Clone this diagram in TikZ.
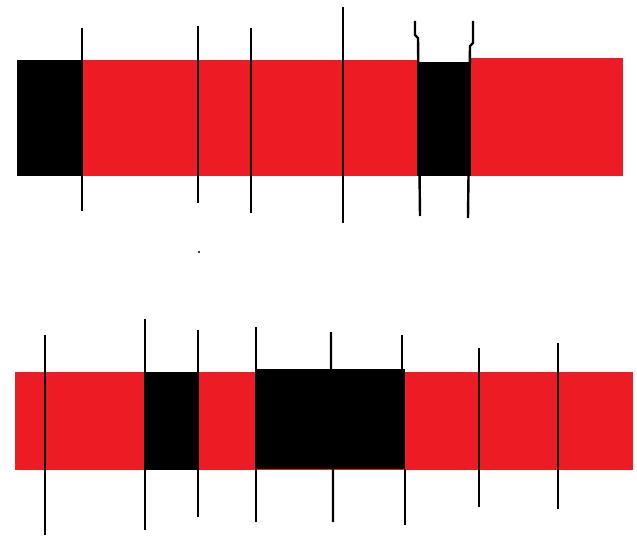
\documentclass[tikz,border=0pt]{standalone}
\definecolor{PaintRed}{RGB}{237, 28, 36}
\usepackage{tikz}

\begin{document}
\begin{tikzpicture}[x=1pt, y=-1pt,
	red/.style={fill=PaintRed, draw=none},
	blk/.style={fill=black, draw=none},
	cut/.style={draw=black, line width=2.4pt}]
	\useasboundingbox (0,0) rectangle (637,537);
	% upper strip
	\fill[red] (82,60) rectangle (417,176);
	\fill[red] (471,58) rectangle (623,176);
	\fill[blk] (17,60) rectangle (82,176);
	\fill[blk] (417,62) rectangle (471,176);
	\foreach \x/\a/\b in {82/28/211, 198/26/203, 251/28/213, 343/7/223}
		\draw[cut] (\x,\a) -- (\x,\b);
	\draw[cut] (415,21) -- (415,35) -- (418,38) -- (420,216);
	\draw[cut] (473,21) -- (473,43) -- (470,46) -- (468,218);
	\fill (199,252) circle (1.2pt);
	% lower strip
	\fill[red] (15,372) rectangle (633,470);
	\fill[blk] (145,372) rectangle (198,470);
	\fill[blk] (256,369) rectangle (405,469);
	\foreach \x/\a/\b in {45/335/535, 145/319/530, 198/330/517, 256/327/522, 479/348/507, 558/343/509}
		\draw[cut] (\x,\a) -- (\x,\b);
	\draw[cut] (331,332) -- (331,420) -- (333,422) -- (333,522);
	\draw[cut] (402,335) -- (402,369);
	\draw[cut] (405,469) -- (405,525);
\end{tikzpicture}
\end{document}
